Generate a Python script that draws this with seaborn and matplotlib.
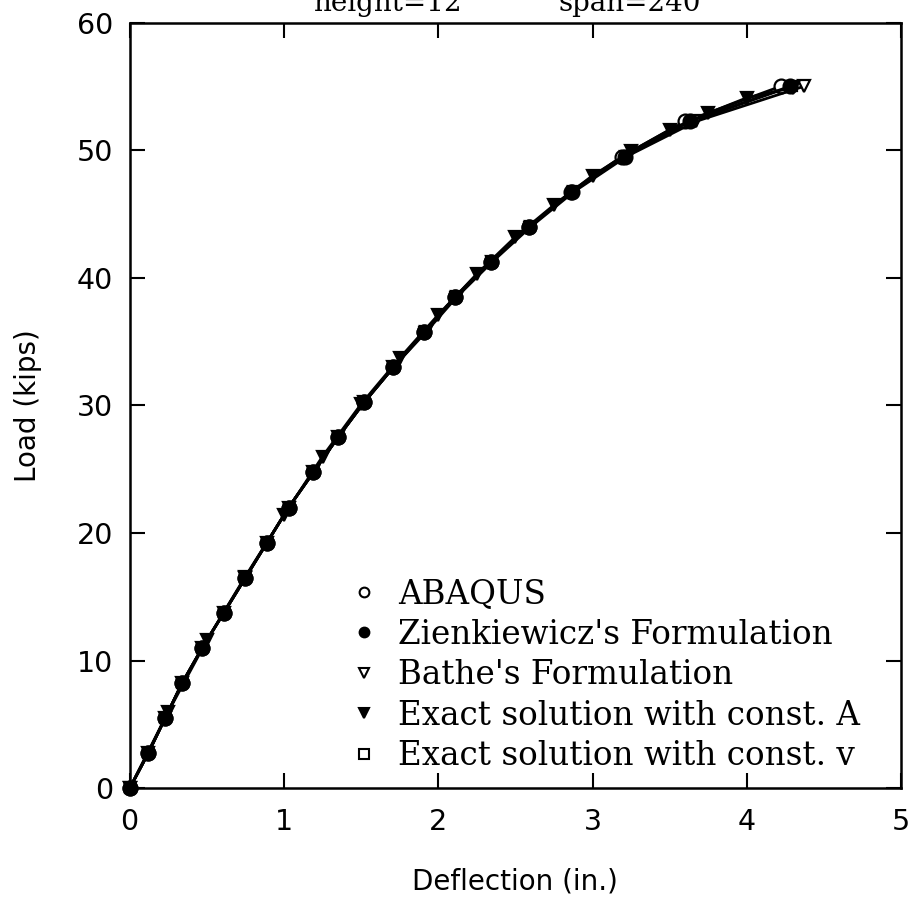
import numpy as np
import pandas as pd
import matplotlib
matplotlib.use('Agg')
import matplotlib.pyplot as plt
from matplotlib.lines import Line2D
import seaborn as sns

# load levels (kips) used by the incremental solutions
loads = [0, 2.75, 5.5, 8.25, 11, 13.75, 16.5, 19.25, 22, 24.75, 27.5,
         30.25, 33, 35.75, 38.5, 41.25, 44, 46.75, 49.5, 52.25, 55]

# deflections (in.)
defl_abaqus = [0, 0.12, 0.23, 0.34, 0.47, 0.61, 0.75, 0.89, 1.03, 1.19, 1.35,
               1.52, 1.71, 1.91, 2.11, 2.34, 2.59, 2.86, 3.19, 3.60, 4.22]
defl_zienk = [0, 0.12, 0.23, 0.34, 0.47, 0.61, 0.75, 0.89, 1.03, 1.19, 1.35,
              1.52, 1.71, 1.91, 2.11, 2.34, 2.59, 2.87, 3.21, 3.63, 4.28]
defl_bathe = [0, 0.12, 0.23, 0.34, 0.47, 0.61, 0.75, 0.89, 1.03, 1.19, 1.35,
              1.52, 1.71, 1.92, 2.12, 2.35, 2.60, 2.88, 3.22, 3.67, 4.37]
defl_exact_v = [0, 0.12, 0.23, 0.34, 0.47, 0.61, 0.75, 0.89, 1.03, 1.19, 1.35,
                1.52, 1.71, 1.91, 2.11, 2.34, 2.59, 2.87, 3.21, 3.64, 4.29]

# exact solution with constant area, given at fixed deflection steps
defl_exact_a = [0, 0.25, 0.5, 0.75, 1.0, 1.25, 1.5, 1.75, 2.0, 2.25, 2.5,
                2.75, 3.0, 3.25, 3.5, 3.75, 4.0, 4.3]
load_exact_a = [0, 6.0, 11.6, 16.6, 21.4, 26.0, 30.1, 33.7, 37.1, 40.3, 43.2,
                45.7, 48.0, 49.9, 51.6, 52.9, 54.1, 54.9]

labels = ['ABAQUS', "Zienkiewicz's Formulation", "Bathe's Formulation",
          'Exact solution with const. A', 'Exact solution with const. v']

sns.set_theme(style='ticks')
plt.rcParams['font.family'] = ['DejaVu Sans']
plt.rcParams['text.color'] = 'black'
plt.rcParams['axes.labelcolor'] = 'black'

fig = plt.figure(figsize=(9.13, 9.0), dpi=100)
ax = fig.add_axes([0.142, 0.124, 0.845, 0.851])

series = [
    (defl_exact_v, loads, 's', 'white', 7),
    (defl_abaqus, loads, 'o', 'white', 10),
    (defl_bathe, loads, 'v', 'white', 9),
    (defl_exact_a, load_exact_a, 'v', 'black', 9),
    (defl_zienk, loads, 'o', 'black', 10),
]
for xs, ys, mk, fc, ms in series:
    sns.lineplot(x=xs, y=ys, ax=ax, sort=False, estimator=None, color='black',
                 linewidth=2.0, marker=mk, markersize=ms, markerfacecolor=fc,
                 markeredgecolor='black', markeredgewidth=1.6, clip_on=False)

ax.set_xlim(0, 5)
ax.set_ylim(0, 60)
ax.set_xticks([0, 1, 2, 3, 4, 5])
ax.set_yticks([0, 10, 20, 30, 40, 50, 60])
ax.tick_params(direction='in', length=11, width=1.5, top=True, right=True,
               labelsize=20.5, colors='black')
ax.tick_params(axis='x', pad=14)
ax.tick_params(axis='y', pad=12)
for s in ax.spines.values():
    s.set_linewidth(1.8)
    s.set_color('black')

ax.set_xlabel('Deflection (in.)', fontsize=20, labelpad=23, color='black')
ax.set_ylabel('Load (kips)', fontsize=20, labelpad=25, color='black')

mk_specs = [('o', 'white'), ('o', 'black'), ('v', 'white'), ('v', 'black'), ('s', 'white')]
handles = [Line2D([], [], linestyle='none', marker=m, markerfacecolor=f,
                  markeredgecolor='black', markeredgewidth=1.5, markersize=7)
           for m, f in mk_specs]
leg = ax.legend(handles, labels, loc='lower left', bbox_to_anchor=(0.27, 0.0),
                frameon=False, prop={'family': 'DejaVu Serif', 'size': 23.5},
                handlelength=0.6, handletextpad=0.75, labelspacing=0.26, borderpad=0)
for t in leg.get_texts():
    t.set_color('black')

fig.text(0.424, 0.988, 'height=12', family='DejaVu Serif', fontsize=20,
         ha='center', va='baseline', color='black')
fig.text(0.69, 0.988, 'span=240', family='DejaVu Serif', fontsize=20,
         ha='center', va='baseline', color='black')

fig.savefig('out.png', dpi=100)
